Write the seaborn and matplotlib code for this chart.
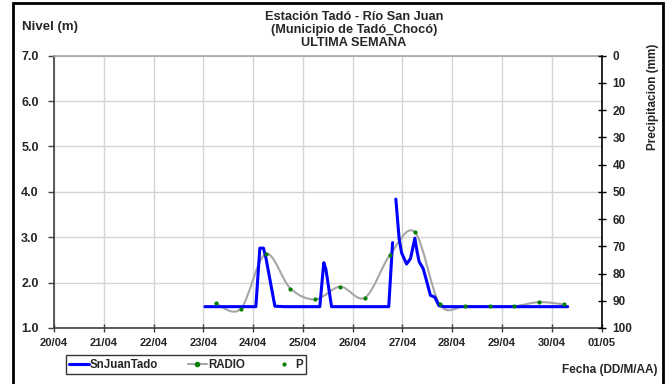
import pandas as pd
import matplotlib
matplotlib.use("Agg")
import matplotlib.pyplot as plt
import matplotlib.dates as mdates
from matplotlib.path import Path
from matplotlib.patches import PathPatch, Rectangle
from matplotlib.lines import Line2D
import seaborn as sns

# Set style
sns.set_theme(style="white")
plt.rcParams['font.family'] = ['Liberation Sans', 'DejaVu Sans']
plt.rcParams['font.weight'] = 'bold'

# Nivel SnJuanTado (m) - None marks the gap in the record
NIVEL_FECHA = [
    "2013-04-23 00:45", "2013-04-24 01:20", "2013-04-24 03:15", "2013-04-24 05:00",
    "2013-04-24 06:10", "2013-04-24 10:30", "2013-04-24 15:20", "2013-04-25 08:10",
    "2013-04-25 10:05", "2013-04-25 11:05", "2013-04-25 13:50", "2013-04-26 17:25",
    "2013-04-26 19:15", "2013-04-26 20:00", "2013-04-26 20:50", "2013-04-26 22:25",
    "2013-04-26 23:35", "2013-04-27 02:00", "2013-04-27 03:55", "2013-04-27 06:00",
    "2013-04-27 07:05", "2013-04-27 08:05", "2013-04-27 10:00", "2013-04-27 11:35",
    "2013-04-27 13:30", "2013-04-27 15:35", "2013-04-27 17:40", "2013-04-27 20:25",
    "2013-04-30 07:40",
]
NIVEL_M = [
    1.47, 1.47, 2.76, 2.76,
    2.55, 1.48, 1.47, 1.47,
    2.44, 2.30, 1.47, 1.47,
    2.88, None, 3.84, 2.97,
    2.66, 2.41, 2.53, 2.98,
    2.68, 2.46, 2.31, 2.05,
    1.72, 1.68, 1.49, 1.47,
    1.47,
]

# RADIO readings (m)
RADIO_FECHA = [
    "2013-04-23 06:00", "2013-04-23 18:00", "2013-04-24 06:00", "2013-04-24 18:00",
    "2013-04-25 06:00", "2013-04-25 18:00", "2013-04-26 06:00", "2013-04-26 18:00",
    "2013-04-27 06:00", "2013-04-27 18:00", "2013-04-28 06:00", "2013-04-28 18:00",
    "2013-04-29 06:00", "2013-04-29 18:00", "2013-04-30 06:00",
]
RADIO_M = [1.54, 1.42, 2.63, 1.87, 1.63, 1.91, 1.67, 2.61,
           3.11, 1.52, 1.48, 1.48, 1.48, 1.57, 1.52]

# Precipitacion P (mm) - no data this week
P_FECHA = []
P_MM = []

DIAS = pd.date_range("2013-04-20", "2013-05-01", freq="D")


def smooth_path(x, y, t=1 / 6):
    # Excel-style smoothed line drawn as cubic Bezier segments
    verts = [(x[0], y[0])]
    codes = [Path.MOVETO]
    n = len(x)
    for i in range(n - 1):
        a, b = max(i - 1, 0), min(i + 2, n - 1)
        verts += [(x[i] + (x[i + 1] - x[a]) * t, y[i] + (y[i + 1] - y[a]) * t),
                  (x[i + 1] - (x[b] - x[i]) * t, y[i + 1] - (y[b] - y[i]) * t),
                  (x[i + 1], y[i + 1])]
        codes += [Path.CURVE4] * 3
    return Path(verts, codes)


nivel = pd.DataFrame({"fecha": pd.to_datetime(NIVEL_FECHA),
                      "nivel": pd.array(NIVEL_M, dtype="Float64").astype(float)})
nivel["tramo"] = nivel["nivel"].isna().cumsum()
nivel = nivel.dropna()
radio = pd.DataFrame({"fecha": pd.to_datetime(RADIO_FECHA), "nivel": RADIO_M})

fig = plt.figure(figsize=(6.72, 3.84), dpi=100)
ax = fig.add_axes([54 / 672, 1 - 328 / 384, 547.5 / 672, 272.3 / 384])

ax.grid(True, color="#d4d4d4", lw=1)
ax.set_axisbelow(True)

# RADIO smooth line + markers
rx = mdates.date2num(radio["fecha"])
ax.add_patch(PathPatch(smooth_path(list(rx), RADIO_M), fill=False,
                       edgecolor="#a6a6a6", lw=1.5, zorder=2))
sns.scatterplot(data=radio, x="fecha", y="nivel", color="#008000", s=9,
                linewidth=0, ax=ax, zorder=4)

# SnJuanTado level
sns.lineplot(data=nivel, x="fecha", y="nivel", units="tramo", estimator=None,
             color="#0000ff", lw=2.2, ax=ax, zorder=3)

ax.set_xlim(DIAS[0], DIAS[-1])
ax.set_ylim(1, 7)
ax.set_yticks(range(1, 8))
ax.yaxis.set_major_formatter(plt.FuncFormatter(lambda v, p: f"{v:.1f}"))
ax.set_xticks(DIAS)
ax.xaxis.set_major_formatter(mdates.DateFormatter("%d/%m"))
ax.set_xlabel("")
ax.set_ylabel("")
ax.tick_params(axis="y", which="major", left=True, direction="out", length=4,
               width=1, color="#404040", pad=7, labelsize=9)
ax.tick_params(axis="x", which="major", bottom=True, direction="inout", length=6,
               width=1, color="#404040", pad=4, labelsize=8)

for s in ["left", "bottom"]:
    ax.spines[s].set_color("#404040")
    ax.spines[s].set_linewidth(1.2)
ax.spines["top"].set_color("#a6a6a6")
ax.spines["top"].set_linewidth(1.2)
ax.spines["right"].set_visible(False)

# precipitation axis (inverted)
ax2 = ax.twinx()
ax2.set_ylim(100, 0)
ax2.set_yticks(range(0, 101, 10))
ax2.plot(pd.to_datetime(P_FECHA), P_MM, ls="none", marker="o", ms=2,
         color="#008000")
ax2.grid(False)
ax2.tick_params(axis="y", right=True, direction="inout", length=6, width=1,
                color="black", pad=5, labelsize=8.5)
for s in ["left", "top", "bottom"]:
    ax2.spines[s].set_visible(False)
ax2.spines["right"].set_color("black")
ax2.spines["right"].set_linewidth(1.2)

# texts
fig.text(354 / 672, 1 - 11 / 384,
         "Estación Tadó - Río San Juan\n(Municipio de Tadó_Chocó)\nULTIMA SEMANA",
         ha="center", va="top", fontsize=9.2, fontweight="bold", linespacing=1.1)
fig.text(22 / 672, 1 - 27 / 384, "Nivel (m)", ha="left", va="center",
         fontsize=9.5, fontweight="bold")
fig.text(653 / 672, 1 - 97 / 384, "Precipitacion (mm)", ha="center",
         va="center", rotation=90, fontsize=8.5, fontweight="bold")
fig.text(657 / 672, 1 - 370 / 384, "Fecha (DD/M/AA)", ha="right",
         va="center", fontsize=8.5, fontweight="bold")

handles = [Line2D([], [], color="#0000ff", lw=2.2),
           Line2D([], [], color="#a6a6a6", lw=1.5, marker="o", ms=3,
                  mfc="#008000", mec="#008000"),
           Line2D([], [], ls="none", marker="o", ms=2, color="#008000")]
leg = fig.legend(handles, ["SnJuanTado", "RADIO", "P"], loc="lower left",
                 bbox_to_anchor=(60 / 672, 1 - 380 / 384, 252 / 672, 0.05),
                 mode="expand", ncol=3,
                 fontsize=8.3, frameon=True, fancybox=False, edgecolor="black",
                 handlelength=1.7, handletextpad=0.1, columnspacing=1.5,
                 borderpad=0.3)
leg.get_frame().set_linewidth(1)

# outer border of the chart
fig.patches.append(Rectangle((13 / 672, -0.02), 650 / 672, 1 - 3 / 384 + 0.02,
                             transform=fig.transFigure, fill=False,
                             edgecolor="black", lw=2, zorder=10))

fig.savefig("out.png", dpi=100)
plt.close(fig)
